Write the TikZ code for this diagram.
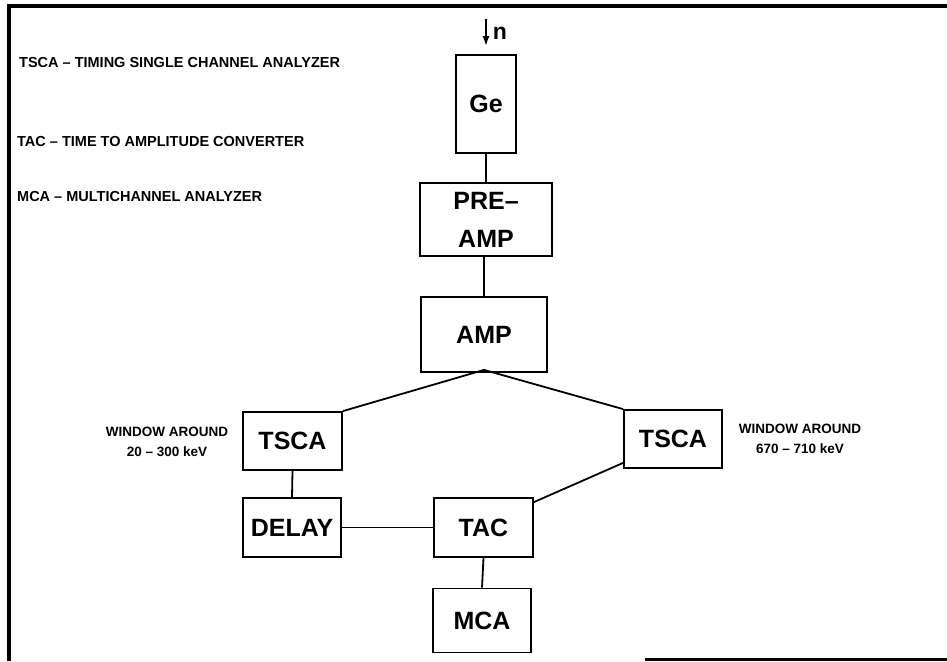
\documentclass[tikz,border=0pt]{standalone}
\usepackage{fontspec}
\setmainfont{Liberation Sans}
\usetikzlibrary{calc,arrows.meta}
\tikzset{
  box/.style={draw, line width=1.8pt, inner sep=0pt, align=center, font=\fontsize{25}{28}\selectfont\bfseries},
  wire/.style={line width=1.8pt},
  legend/.style={anchor=west, inner sep=0pt, font=\fontsize{14.5}{16}\selectfont\bfseries},
  note/.style={align=center, inner sep=0pt, font=\fontsize{13.5}{20}\selectfont\bfseries},
  frame/.style={line width=3.5pt}
}
\begin{document}
\begin{tikzpicture}[x=1pt,y=-1pt]
\useasboundingbox (0,0) rectangle (947,661);
% frame
\coordinate (tl) at (9,6);
\coordinate (tr) at (947,6);
\coordinate (bl) at (9,661);
\coordinate (br1) at (645,659);
\coordinate (br2) at (947,659);
\draw[frame] (bl) -- (tl) -- (tr);
\draw[line width=3pt] (br1) -- (br2);
% legend
\node[legend] (l1) at (19,63) {TSCA – TIMING SINGLE CHANNEL ANALYZER};
\node[legend] (l2) at (17,142) {TAC – TIME TO AMPLITUDE CONVERTER};
\node[legend] (l3) at (17,197) {MCA – MULTICHANNEL ANALYZER};
% boxes
\node[box, minimum width=60pt, minimum height=98pt] (ge) at (486,104) {Ge};
\node[box, minimum width=132pt, minimum height=73pt, font=\fontsize{25}{38}\selectfont\bfseries] (pre) at (486,219.5) {PRE–\\AMP};
\node[box, minimum width=126pt, minimum height=75pt] (amp) at (484,334.5) {AMP};
\node[box, minimum width=99pt, minimum height=58pt] (tsca1) at (292.5,441) {TSCA};
\node[box, minimum width=98pt, minimum height=58pt] (tsca2) at (673,439) {TSCA};
\node[box, minimum width=98pt, minimum height=59pt] (delay) at (292,527.5) {DELAY};
\node[box, minimum width=99pt, minimum height=59pt] (tac) at (483.5,527.5) {TAC};
\node[box, minimum width=98pt, minimum height=64pt] (mca) at (482,620.5) {MCA};
% notes
\node[note] (w1) at (167,442) {WINDOW AROUND\\20 – 300 keV};
\node[note] (w2) at (800,439) {WINDOW AROUND\\670 – 710 keV};
% neutron
\coordinate (nstart) at (486,19);
\draw[line width=1.8pt, -{Latex[length=10pt,width=7pt]}] (nstart) -- ($(ge.north)+(0,-8)$);
\node[inner sep=0pt, font=\fontsize{23}{24}\selectfont\bfseries] (n) at (500,33) {n};
% connectors
\draw[wire] (ge.south) -- (pre.north);
\draw[wire] ($(pre.south)+(-2,0)$) -- (amp.north);
\coordinate (apex) at ($(amp.south)+(0,-3)$);
\draw[wire] (tsca1.north east) -- (apex) -- (tsca2.north west);
\draw[wire] (tsca1.south) -- (delay.north);
\draw[wire] (delay.east) -- (tac.west);
\draw[wire] ($(tac.north east)+(0,5)$) -- ($(tsca2.south west)+(0,-6)$);
\draw[wire] (tac.south) -- (mca.north);
\end{tikzpicture}
\end{document}
